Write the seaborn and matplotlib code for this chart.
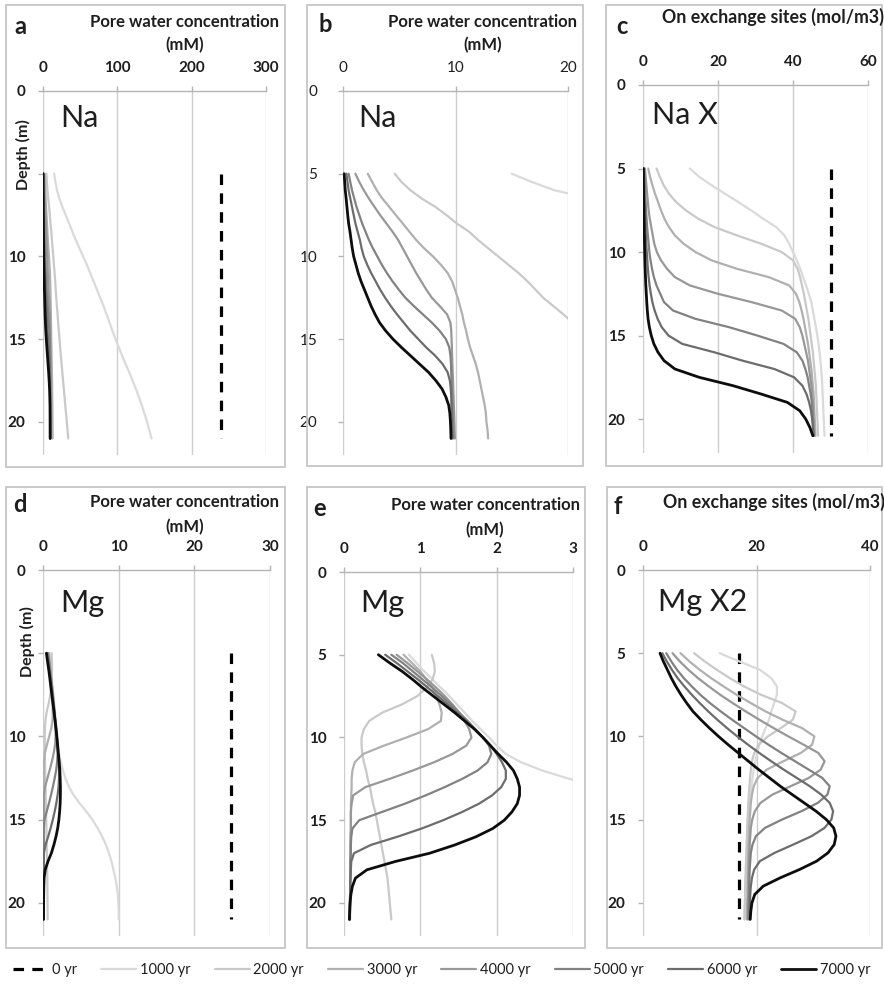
import matplotlib
matplotlib.use("Agg")
import matplotlib.pyplot as plt
import seaborn as sns
from matplotlib.patches import Rectangle

# ---------------- data ----------------
DEPTH = [5, 5.5, 6, 6.5, 7, 7.5, 8, 8.5, 9, 9.5, 10, 10.5, 11, 11.5, 12, 12.5, 13,
         13.5, 14, 14.5, 15, 15.5, 16, 16.5, 17, 17.5, 18, 18.5, 19, 19.5, 20, 20.5, 21]
TIMES = ["0 yr", "1000 yr", "2000 yr", "3000 yr", "4000 yr", "5000 yr", "6000 yr", "7000 yr"]
DEPTH_TICKS = [0, 5, 10, 15, 20]

# Na in pore water (mM) - panels a and b
NA_PW_INIT = 240
NA_PW_1000 = [15, 16.8, 18.8, 22, 26, 30.5, 35, 39.5, 44, 49, 54, 59, 63.5, 68, 72.5, 77, 81.5,
              85.5, 89.5, 93.5, 97.5, 102, 106.5, 111, 116, 120.5, 125, 129, 133, 136.5, 140, 143, 146]
NA_PW_2000 = [4.6, 5.2, 6.0, 7.0, 8.2, 9.2, 10.1, 11.2, 12.0, 12.9, 13.8, 14.7, 15.6, 16.4, 17.1, 17.8, 18.7,
              19.6, 20.4, 21.3, 22.2, 23.1, 24.0, 25.0, 26.0, 27.0, 28.0, 29.0, 30.0, 31.0, 32.0, 33.0, 34.0]
NA_PW_3000 = [2.2, 2.6, 3.0, 3.5, 4.1, 4.7, 5.3, 5.9, 6.5, 7.2, 8.0, 8.7, 9.3, 9.7, 9.95, 10.2, 10.4,
              10.6, 10.75, 10.95, 11.1, 11.3, 11.55, 11.8, 12.0, 12.15, 12.3, 12.45, 12.6, 12.7, 12.75, 12.85, 12.9]
NA_PW_4000 = [1.1, 1.45, 1.85, 2.3, 2.8, 3.3, 3.85, 4.4, 4.9, 5.3, 5.7, 6.1, 6.5, 6.95, 7.4, 7.9, 8.6,
              9.25, 9.55, 9.62, 9.65, 9.68, 9.7, 9.72, 9.75, 9.78, 9.8, 9.83, 9.85, 9.88, 9.9, 9.92, 9.95]
NA_PW_5000 = [0.5, 0.65, 0.8, 1.0, 1.2, 1.45, 1.7, 2.0, 2.3, 2.65, 3.05, 3.45, 3.9, 4.4, 4.95, 5.55, 6.3,
              7.1, 7.9, 8.6, 9.15, 9.45, 9.55, 9.6, 9.62, 9.65, 9.67, 9.7, 9.72, 9.75, 9.77, 9.79, 9.8]
NA_PW_6000 = [0.3, 0.4, 0.5, 0.65, 0.8, 0.95, 1.1, 1.3, 1.5, 1.65, 1.85, 2.15, 2.5, 2.9, 3.3, 3.75, 4.25,
              4.8, 5.4, 6.0, 6.7, 7.4, 8.2, 8.85, 9.3, 9.5, 9.58, 9.62, 9.64, 9.66, 9.68, 9.69, 9.7]
NA_PW_7000 = [0.1, 0.15, 0.2, 0.28, 0.35, 0.42, 0.5, 0.62, 0.72, 0.82, 0.95, 1.15, 1.35, 1.6, 1.9, 2.2, 2.5,
              2.85, 3.25, 3.8, 4.45, 5.2, 6.0, 6.8, 7.6, 8.25, 8.8, 9.15, 9.4, 9.5, 9.55, 9.58, 9.6]

# NaX on exchange sites (mol/m3) - panel c
NAX_INIT = 50
NAX_1000 = [12.5, 15, 18.3, 21.8, 25.4, 28.8, 32, 35.5, 37.7, 39, 40, 41, 41.9, 42.7, 43.5, 44.2, 44.9,
            45.3, 45.7, 46.1, 46.5, 46.8, 47.1, 47.3, 47.5, 47.7, 47.8, 47.9, 48, 48.1, 48.2, 48.3, 48.4]
NAX_2000 = [3.6, 4.5, 5.5, 6.9, 8.8, 11.4, 14.7, 19, 25, 31.5, 37, 40, 41.2, 41.9, 42.4, 42.9, 43.3,
            43.7, 44.1, 44.4, 44.7, 45.0, 45.3, 45.5, 45.7, 45.9, 46.1, 46.2, 46.3, 46.4, 46.5, 46.6, 46.7]
NAX_3000 = [1.4, 1.9, 2.5, 3.2, 4.0, 4.8, 5.7, 6.9, 8.5, 10.8, 14, 18.3, 25, 33.5, 39, 40.8, 41.7,
            42.3, 42.8, 43.2, 43.6, 44, 44.3, 44.6, 44.9, 45.1, 45.3, 45.5, 45.6, 45.7, 45.8, 45.9, 46]
NAX_4000 = [0.5, 0.7, 0.9, 1.1, 1.3, 1.5, 1.8, 2.2, 2.6, 3.0, 3.7, 4.8, 6.4, 8.5, 12.5, 20, 29,
            37, 40.6, 41.8, 42.5, 43, 43.5, 44, 44.3, 44.6, 44.9, 45.1, 45.3, 45.4, 45.5, 45.6, 45.7]
NAX_5000 = [0.3, 0.4, 0.5, 0.6, 0.7, 0.8, 0.95, 1.1, 1.3, 1.5, 1.7, 2.0, 2.4, 2.9, 3.6, 4.6, 5.6,
            8.0, 14, 23, 30.5, 37.5, 41, 42.5, 43.3, 43.9, 44.3, 44.7, 45, 45.2, 45.3, 45.4, 45.5]
NAX_6000 = [0.2, 0.25, 0.3, 0.35, 0.4, 0.47, 0.55, 0.65, 0.75, 0.85, 1.0, 1.15, 1.3, 1.5, 1.75, 2.1, 2.5,
            3.1, 3.9, 5.0, 6.8, 10.5, 19, 26.5, 35, 40.3, 42.5, 43.6, 44.3, 44.8, 45.1, 45.3, 45.5]
NAX_7000 = [0.1, 0.12, 0.14, 0.17, 0.2, 0.24, 0.28, 0.32, 0.36, 0.4, 0.45, 0.5, 0.58, 0.66, 0.75, 0.88, 1.0,
            1.15, 1.35, 1.7, 2.2, 2.9, 4.0, 5.6, 8.5, 15, 24, 31.5, 38.5, 41.8, 43.4, 44.5, 45.3]

# Mg in pore water (mM) - panels d and e
MG_PW_INIT = 24.8
MG_PW_1000 = [0.85, 0.95, 1.05, 1.16, 1.27, 1.38, 1.48, 1.58, 1.68, 1.79, 1.9, 2.0, 2.12, 2.32, 2.6, 2.95, 3.4,
              4.0, 4.8, 5.7, 6.5, 7.2, 7.8, 8.3, 8.7, 9.05, 9.3, 9.55, 9.75, 9.88, 9.95, 10.0, 10.0]
MG_PW_2000 = [1.15, 1.18, 1.19, 1.16, 1.08, 0.96, 0.76, 0.5, 0.33, 0.26, 0.23, 0.23, 0.24, 0.26, 0.29, 0.31, 0.34,
              0.36, 0.38, 0.41, 0.43, 0.45, 0.47, 0.49, 0.51, 0.53, 0.55, 0.57, 0.58, 0.59, 0.6, 0.61, 0.62]
MG_PW_3000 = [0.78, 0.89, 1.0, 1.08, 1.16, 1.21, 1.25, 1.28, 1.27, 1.1, 0.82, 0.52, 0.25, 0.14, 0.11, 0.1, 0.1,
              0.095, 0.09, 0.09, 0.09, 0.09, 0.09, 0.085, 0.085, 0.085, 0.085, 0.08, 0.08, 0.08, 0.08, 0.08, 0.08]
MG_PW_4000 = [0.69, 0.83, 0.96, 1.09, 1.21, 1.32, 1.42, 1.51, 1.58, 1.64, 1.67, 1.6, 1.42, 1.18, 0.9, 0.6, 0.28,
              0.12, 0.1, 0.09, 0.09, 0.09, 0.085, 0.085, 0.085, 0.08, 0.08, 0.08, 0.08, 0.08, 0.08, 0.075, 0.075]
MG_PW_5000 = [0.62, 0.77, 0.9, 1.03, 1.16, 1.28, 1.4, 1.51, 1.62, 1.72, 1.82, 1.9, 1.93, 1.88, 1.75, 1.55, 1.32,
              1.07, 0.8, 0.5, 0.2, 0.11, 0.095, 0.09, 0.09, 0.085, 0.085, 0.085, 0.08, 0.08, 0.08, 0.075, 0.075]
MG_PW_6000 = [0.54, 0.69, 0.83, 0.97, 1.1, 1.23, 1.36, 1.48, 1.6, 1.71, 1.82, 1.92, 2.0, 2.07, 2.12, 2.12, 2.06,
              1.94, 1.77, 1.55, 1.3, 1.02, 0.7, 0.35, 0.13, 0.095, 0.09, 0.085, 0.08, 0.08, 0.075, 0.075, 0.075]
MG_PW_7000 = [0.45, 0.6, 0.76, 0.9, 1.03, 1.17, 1.31, 1.45, 1.58, 1.71, 1.82, 1.92, 2.02, 2.13, 2.22, 2.27, 2.3,
              2.3, 2.27, 2.2, 2.1, 1.95, 1.73, 1.45, 1.12, 0.67, 0.3, 0.15, 0.11, 0.09, 0.08, 0.075, 0.07]

# MgX2 on exchange sites (mol/m3) - panel f
MGX_INIT = 17.0
MGX_1000 = [13.5, 17, 20.6, 22.6, 23.6, 23.6, 23.1, 22.6, 22.2, 21.6, 21.0, 20.5, 20.1, 19.8, 19.5, 19.3, 19.1,
            18.95, 18.85, 18.75, 18.65, 18.55, 18.45, 18.4, 18.3, 18.25, 18.2, 18.1, 18.05, 18.0, 17.95, 17.9, 17.85]
MGX_2000 = [9.0, 10.9, 13.0, 15.3, 17.8, 20.8, 24.5, 26.9, 26.4, 24.3, 22.0, 20.4, 19.6, 19.2, 19.0, 18.85, 18.75,
            18.65, 18.55, 18.5, 18.4, 18.35, 18.3, 18.25, 18.2, 18.15, 18.1, 18.05, 18.0, 18.0, 17.95, 17.9, 17.9]
MGX_3000 = [6.6, 8.2, 10.0, 12.0, 14.2, 16.5, 19.0, 21.6, 24.6, 28.0, 30.2, 29.8, 27.8, 24.7, 21.8, 20.2, 19.5,
            19.2, 19.0, 18.9, 18.8, 18.7, 18.65, 18.6, 18.55, 18.5, 18.5, 18.45, 18.4, 18.4, 18.35, 18.3, 18.3]
MGX_4000 = [5.2, 6.5, 8.0, 9.7, 11.6, 13.6, 15.8, 18.1, 20.5, 23.0, 25.6, 28.3, 30.9, 32.0, 31.3, 29.2, 26.0,
            22.8, 20.7, 19.7, 19.25, 19.0, 18.9, 18.8, 18.75, 18.7, 18.65, 18.6, 18.6, 18.55, 18.5, 18.5, 18.5]
MGX_5000 = [4.1, 5.0, 6.0, 7.2, 8.6, 10.1, 11.8, 13.7, 15.7, 17.8, 19.9, 22.1, 24.4, 26.8, 29.2, 31.6, 32.9,
            32.5, 30.8, 27.9, 24.5, 21.5, 19.9, 19.3, 19.0, 18.9, 18.8, 18.75, 18.7, 18.7, 18.65, 18.6, 18.6]
MGX_6000 = [3.4, 4.2, 5.1, 6.1, 7.3, 8.6, 10.0, 11.5, 13.1, 14.8, 16.6, 18.5, 20.5, 22.6, 24.8, 27.1, 29.4,
            31.4, 32.9, 33.5, 33.2, 32.0, 29.7, 26.5, 23.2, 20.6, 19.6, 19.2, 19.0, 18.9, 18.85, 18.8, 18.8]
MGX_7000 = [3.0, 3.6, 4.3, 5.0, 5.8, 6.7, 7.7, 8.8, 10.2, 11.7, 13.3, 15.0, 16.8, 18.6, 20.4, 22.3, 24.2,
            26.3, 28.4, 30.5, 32.3, 33.6, 34.0, 33.7, 32.6, 30.6, 27.6, 24.2, 21.2, 19.7, 19.2, 19.0, 18.9]

NA_PW = [NA_PW_1000, NA_PW_2000, NA_PW_3000, NA_PW_4000, NA_PW_5000, NA_PW_6000, NA_PW_7000]
NAX = [NAX_1000, NAX_2000, NAX_3000, NAX_4000, NAX_5000, NAX_6000, NAX_7000]
MG_PW = [MG_PW_1000, MG_PW_2000, MG_PW_3000, MG_PW_4000, MG_PW_5000, MG_PW_6000, MG_PW_7000]
MGX = [MGX_1000, MGX_2000, MGX_3000, MGX_4000, MGX_5000, MGX_6000, MGX_7000]

# ---------------- style ----------------
COLORS = ["#dadada", "#c9c9c9", "#b0b0b0", "#989898", "#828282", "#6c6c6c", "#0d0d0d"]
WIDTHS = [1.6, 1.6, 1.6, 1.6, 1.6, 1.6, 2.0]
GRID = "#cdcdcd"
TXT = "#1e1e1e"

sns.set_style("white")
plt.rcParams["font.family"] = ["Lato", "DejaVu Sans"]

W, H = 884, 989
fig = plt.figure(figsize=(W / 100, H / 100), dpi=100)


def fb(x0, y0, x1, y1):
    return [x0 / W, 1 - y1 / H, (x1 - x0) / W, (y1 - y0) / H]


def ftext(x, y, s, **kw):
    fig.text(x / W, 1 - y / H, s, color=TXT, **kw)


panels = [
    dict(box=(43, 91, 266, 455), frame=(6, 5, 285, 467), data=NA_PW, init=NA_PW_INIT,
         xmax=300, xticks=[0, 100, 200, 300], bold=True, ypad=9,
         letter=("a", 20, 27), elem=("Na", 60, 118), tsize=12,
         title=[("Pore water concentration", 185, 22), ("(mM)", 185, 45)], depth=(23, 155)),
    dict(box=(343, 91, 568, 455), frame=(307, 5, 583, 466), data=NA_PW, init=NA_PW_INIT,
         xmax=20, xticks=[0, 10, 20], bold=False, ypad=15,
         letter=("b", 325, 25), elem=("Na", 358, 118), tsize=12,
         title=[("Pore water concentration", 483, 22), ("(mM)", 483, 45)], depth=None),
    dict(box=(643, 85, 868, 452.5), frame=(606, 5, 882, 466), data=NAX, init=NAX_INIT,
         xmax=60, xticks=[0, 20, 40, 60], bold=True, ypad=9,
         letter=("c", 622, 27), elem=("Na X", 652, 115), tsize=12.8,
         title=[("On exchange sites (mol/m3)", 773, 17)], depth=None),
    dict(box=(43, 570, 270, 936), frame=(6, 487, 285, 948), data=MG_PW, init=MG_PW_INIT,
         xmax=30, xticks=[0, 10, 20, 30], bold=True, ypad=9,
         letter=("d", 20, 505), elem=("Mg", 60, 603), tsize=12,
         title=[("Pore water concentration", 185, 502), ("(mM)", 185, 527)], depth=(27, 642)),
    dict(box=(344, 572, 573, 936), frame=(307, 487, 585, 948), data=MG_PW, init=MG_PW_INIT,
         xmax=3, xticks=[0, 1, 2, 3], bold=True, ypad=9,
         letter=("e", 320, 508), elem=("Mg", 360, 603), tsize=12,
         title=[("Pore water concentration", 485, 505), ("(mM)", 485, 530)], depth=None),
    dict(box=(643, 570, 870, 936), frame=(607, 487, 882, 948), data=MGX, init=MGX_INIT,
         xmax=40, xticks=[0, 20, 40], bold=True, ypad=9,
         letter=("f", 618, 507), elem=("Mg X2", 658, 602), tsize=12.8,
         title=[("On exchange sites (mol/m3)", 774, 502)], depth=None),
]

legend_handles = None
for p in panels:
    x0, y0, x1, y1 = p["frame"]
    fig.patches.append(Rectangle((x0 / W, 1 - y1 / H), (x1 - x0) / W, (y1 - y0) / H,
                                 transform=fig.transFigure, fill=False,
                                 edgecolor="#c6c6c6", linewidth=1.3))
    ax = fig.add_axes(fb(*p["box"]))
    sns.lineplot(x=[p["init"], p["init"]], y=[DEPTH[0], DEPTH[-1]], ax=ax, color="black",
                 linewidth=2.3, linestyle=(0, (3.3, 2.6)), orient="y", estimator=None)
    for vals, c, lw in zip(p["data"], COLORS, WIDTHS):
        sns.lineplot(x=vals, y=DEPTH, ax=ax, color=c, linewidth=lw, orient="y", estimator=None)
    if legend_handles is None:
        legend_handles = list(ax.get_lines())

    ax.set_xlim(0, p["xmax"])
    ax.set_ylim(22, 0)
    ax.set_xlabel("")
    ax.set_ylabel("")
    ax.xaxis.tick_top()
    ax.set_xticks(p["xticks"])
    ax.set_yticks(DEPTH_TICKS)
    if p["depth"] is not None:
        # the rotated "Depth (m)" title sits over the 5 m label in the original
        ax.set_yticklabels(["" if t == 5 else str(t) for t in DEPTH_TICKS])
    ax.grid(axis="x", color=GRID, linewidth=1.0)
    ax.grid(axis="y", visible=False)
    ax.set_axisbelow(True)
    for s in ["left", "right", "bottom"]:
        ax.spines[s].set_visible(False)
    ax.spines["top"].set_color("#b4b4b4")
    ax.spines["top"].set_linewidth(1.0)
    ax.tick_params(axis="x", which="both", direction="out", length=3.5, width=1.0,
                   color="#b4b4b4", labelcolor=TXT, labelsize=11, pad=8, top=True, bottom=False)
    ax.tick_params(axis="y", which="both", direction="out", length=3.5, width=1.0,
                   color="#b4b4b4", labelcolor=TXT, labelsize=11, pad=p["ypad"], left=True)
    if p["bold"]:
        for lab in ax.get_xticklabels() + ax.get_yticklabels():
            lab.set_fontweight("bold")

    s, lx, ly = p["letter"]
    ftext(lx, ly, s, fontsize=17, fontweight="bold", ha="center", va="center")
    s, ex, ey = p["elem"]
    ftext(ex, ey, s, fontsize=22, ha="left", va="center")
    for s, tx, ty in p["title"]:
        ftext(tx, ty, s, fontsize=p["tsize"], fontweight="bold", ha="center", va="center")
    if p["depth"] is not None:
        dx, dy = p["depth"]
        ftext(dx, dy, "Depth (m)", fontsize=11.5, fontweight="bold", rotation=90,
              ha="center", va="center")

fig.legend(legend_handles, TIMES, loc="center", bbox_to_anchor=(0.5, 1 - 970 / H),
           ncol=8, frameon=False, fontsize=10.5, handlelength=2.4, handletextpad=0.25,
           columnspacing=1.65, labelcolor=TXT)

fig.savefig("out.png", dpi=100)
